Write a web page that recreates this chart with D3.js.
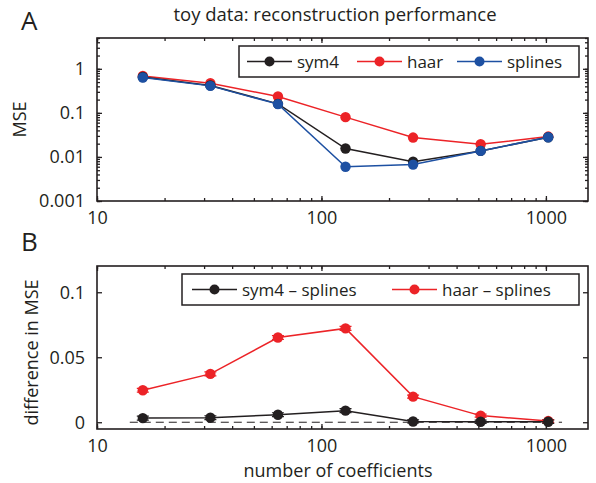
<!DOCTYPE html>
<html>
<head>
<meta charset="utf-8">
<script src="https://cdn.jsdelivr.net/npm/d3@7"></script>
<style>
  body { margin: 0; background: #fff; }
  svg { font-family: "Open Sans", "Noto Sans", sans-serif; fill: #231f20; }
  .axis line { stroke: #231f20; stroke-width: 1.3; }
</style>
</head>
<body>
<svg width="596" height="483"></svg>
<script>
// data
const coeffs = [16, 32, 64, 128, 256, 512, 1024]

const sym4 = [0.65, 0.42, 0.16, 0.0155, 0.0078, 0.0137, 0.028]
const haar = [0.69, 0.47, 0.235, 0.08, 0.0275, 0.0194, 0.029]
const splines = [0.635, 0.41, 0.158, 0.006, 0.0067, 0.0137, 0.028]

const sym4MinusSplines = [0.0032, 0.0035, 0.0058, 0.0089, 0.0006, 0.0004, 0.0004]
const haarMinusSplines = [0.0246, 0.0372, 0.0652, 0.0722, 0.0197, 0.0051, 0.0009]
const diffErr = [0.0015, 0.0015, 0.0015, 0.0015, 0.0012, 0.0012, 0.0012]

const xTickLabels = [10, 100, 1000]
const yTickLabelsA = [0.001, 0.01, 0.1, 1]
const yTickLabelsB = [0, 0.05, 0.1]

const colors = { black: "#231f20", red: "#ec2327", blue: "#1d50a2" }

const svg = d3.select("svg")

// layout
const left = 97, right = 588
const topA = 38, botA = 201
const topB = 266, botB = 429

// scales
const x = d3.scaleLog().domain([10, 1540]).range([left, right])
const yA = d3.scaleLog().domain([0.001, 5]).range([botA, topA])
const yB = d3.scaleLinear().domain([-0.0052, 0.1202]).range([botB, topB])

// minor ticks for log axes
const xMinor = d3.range(1, 4).flatMap(p => d3.range(1, 10).map(m => m * Math.pow(10, p))).filter(v => v >= 10 && v <= 1540)
const yMinorA = d3.range(-3, 1).flatMap(p => d3.range(1, 10).map(m => +(m * Math.pow(10, p)).toPrecision(3))).filter(v => v <= 5)

function drawFrame(y, top, bot, yMajor, yMinor, yFmt) {
  const g = svg.append("g")
  // bottom
  g.append("g").attr("class", "axis").attr("transform", `translate(0,${bot})`)
    .call(d3.axisBottom(x).tickValues(xMinor).tickSizeInner(-3).tickSizeOuter(0).tickFormat(""))
  g.append("g").attr("class", "axis").attr("transform", `translate(0,${bot})`)
    .call(d3.axisBottom(x).tickValues(xTickLabels).tickSizeInner(-5).tickSizeOuter(0).tickPadding(10).tickFormat(d3.format("d")))
    .attr("font-size", 18).attr("font-family", "'Open Sans', sans-serif")
  // top
  g.append("g").attr("class", "axis").attr("transform", `translate(0,${top})`)
    .call(d3.axisTop(x).tickValues(xMinor).tickSizeInner(-3).tickSizeOuter(0).tickFormat(""))
  g.append("g").attr("class", "axis").attr("transform", `translate(0,${top})`)
    .call(d3.axisTop(x).tickValues(xTickLabels).tickSizeInner(-5).tickSizeOuter(0).tickFormat(""))
  // left / right
  if (yMinor) {
    g.append("g").attr("class", "axis").attr("transform", `translate(${left},0)`)
      .call(d3.axisLeft(y).tickValues(yMinor).tickSizeInner(-3).tickSizeOuter(0).tickFormat(""))
    g.append("g").attr("class", "axis").attr("transform", `translate(${right},0)`)
      .call(d3.axisRight(y).tickValues(yMinor).tickSizeInner(-3).tickSizeOuter(0).tickFormat(""))
  }
  g.append("g").attr("class", "axis").attr("transform", `translate(${left},0)`)
    .call(d3.axisLeft(y).tickValues(yMajor).tickSizeInner(-5).tickSizeOuter(0).tickPadding(12).tickFormat(yFmt))
    .attr("font-size", 18).attr("font-family", "'Open Sans', sans-serif")
  g.append("g").attr("class", "axis").attr("transform", `translate(${right},0)`)
    .call(d3.axisRight(y).tickValues(yMajor).tickSizeInner(-5).tickSizeOuter(0).tickFormat(""))
  // box
  g.append("rect")
    .attr("x", left).attr("y", top)
    .attr("width", right - left).attr("height", bot - top)
    .attr("fill", "none").attr("stroke", colors.black).attr("stroke-width", 1.6)
  g.selectAll(".domain").remove()
  g.selectAll(".axis text").attr("fill", colors.black)
}

drawFrame(yA, topA, botA, yTickLabelsA, yMinorA, d => String(d))
drawFrame(yB, topB, botB, yTickLabelsB, null, d => String(d))

// dashed zero line
svg.append("line")
  .attr("x1", x(14)).attr("x2", x(1180))
  .attr("y1", yB(0)).attr("y2", yB(0))
  .attr("stroke", colors.black).attr("stroke-width", 1)
  .attr("stroke-dasharray", "8,5")

function drawSeries(vals, y, color) {
  const pts = coeffs.map((c, i) => ({ c: c, v: vals[i] }))
  const line = d3.line().x(d => x(d.c)).y(d => y(d.v))
  svg.append("path").datum(pts).attr("d", line)
    .attr("fill", "none").attr("stroke", color).attr("stroke-width", 1.5)
  svg.selectAll(null).data(pts).enter().append("circle")
    .attr("cx", d => x(d.c)).attr("cy", d => y(d.v)).attr("r", 5.2)
    .attr("fill", color)
}

function drawErr(vals, color) {
  coeffs.forEach((c, i) => {
    const cx = x(c)
    const y1 = yB(vals[i] - diffErr[i]), y2 = yB(vals[i] + diffErr[i])
    svg.append("path")
      .attr("d", `M${cx},${y1}V${y2}M${cx - 6},${y1}H${cx + 6}M${cx - 6},${y2}H${cx + 6}`)
      .attr("stroke", color).attr("stroke-width", 1.2).attr("fill", "none")
  })
}

// panel A
drawSeries(haar, yA, colors.red)
drawSeries(sym4, yA, colors.black)
drawSeries(splines, yA, colors.blue)

// panel B
drawErr(haarMinusSplines, colors.red)
drawErr(sym4MinusSplines, colors.black)
drawSeries(haarMinusSplines, yB, colors.red)
drawSeries(sym4MinusSplines, yB, colors.black)

// legends
function legend(x0, y0, w, h, items) {
  svg.append("rect").attr("x", x0).attr("y", y0).attr("width", w).attr("height", h)
    .attr("fill", "#fff").attr("stroke", colors.black).attr("stroke-width", 1.5)
  items.forEach(it => {
    svg.append("line").attr("x1", it.x).attr("x2", it.x + 45)
      .attr("y1", y0 + h / 2).attr("y2", y0 + h / 2)
      .attr("stroke", it.color).attr("stroke-width", 1.5)
    svg.append("circle").attr("cx", it.x + 22.5).attr("cy", y0 + h / 2).attr("r", 5)
      .attr("fill", it.color)
    svg.append("text").attr("x", it.x + 50).attr("y", y0 + h / 2 + 6)
      .attr("font-size", 17).attr("fill", colors.black).text(it.label)
  })
}

legend(239, 46, 340, 31, [
  { x: 247, color: colors.black, label: "sym4" },
  { x: 357, color: colors.red, label: "haar" },
  { x: 457, color: colors.blue, label: "splines" }
])
legend(182, 274, 397, 31, [
  { x: 192, color: colors.black, label: "sym4 \u2013 splines" },
  { x: 392, color: colors.red, label: "haar \u2013 splines" }
])

// labels
svg.append("text").attr("x", 21).attr("y", 30).attr("font-size", 26).text("A")
svg.append("text").attr("x", 21).attr("y", 251).attr("font-size", 26).text("B")
svg.append("text").attr("x", 335).attr("y", 21).attr("font-size", 18.5)
  .attr("text-anchor", "middle").text("toy data: reconstruction performance")
svg.append("text").attr("transform", `translate(26,${(topA + botA) / 2}) rotate(-90)`)
  .attr("font-size", 18).attr("text-anchor", "middle").text("MSE")
svg.append("text").attr("transform", `translate(38,${(topB + botB) / 2 + 5}) rotate(-90)`)
  .attr("font-size", 18).attr("text-anchor", "middle").text("difference in MSE")
svg.append("text").attr("x", 338).attr("y", 477).attr("font-size", 18)
  .attr("text-anchor", "middle").text("number of coefficients")
</script>
</body>
</html>
